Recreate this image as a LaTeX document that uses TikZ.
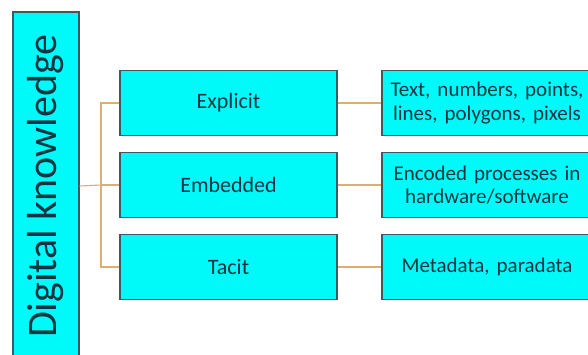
\documentclass[tikz,border=0pt]{standalone}
\usepackage{fontspec}
\setmainfont{Carlito}
\usepackage{tikz}
\usetikzlibrary{positioning,calc}

\definecolor{boxfill}{RGB}{0,250,250}
\definecolor{boxline}{RGB}{60,90,95}
\definecolor{boxtext}{RGB}{10,55,65}
\definecolor{linkline}{RGB}{220,175,110}

\newcommand\wordgap{\spaceskip=7pt\relax}

\tikzset{
    kbox/.style={draw=boxline, line width=1.3pt, fill=boxfill, text=boxtext,
        minimum width=217pt, minimum height=65pt, inner sep=0pt,
        font=\fontsize{22}{24}\selectfont, align=center},
    dbox/.style={kbox, minimum width=210pt,
        font=\fontsize{21}{23.5}\selectfont\wordgap},
    link/.style={draw=linkline, line width=1.1pt}
}

\begin{document}
\begin{tikzpicture}[x=1pt, y=-1pt]
    \clip (0,0) rectangle (588,354);
    \fill[white] (0,0) rectangle (588,354);

    % main box on the left
    \node[kbox, minimum width=66pt, minimum height=348pt, font=\fontsize{42}{46}\selectfont] (dk) at (46,186) {\rotatebox{90}{Digital knowledge}};

    % kinds of knowledge
    \node[kbox] (explicit) at (228.5,103) {Explicit};
    \node[kbox] (embedded) at (228.5,185) {Embedded};
    \node[kbox] (tacit) at (228.5,267) {Tacit};

    % what each kind holds
    \node[dbox] (explicitd) at (487,103) {Text, numbers, points,\\lines, polygons, pixels};
    \node[dbox] (embeddedd) at (487,185) {Encoded processes in\\hardware/software};
    \node[dbox] (tacitd) at (487,267) {Metadata, paradata};

    \coordinate (trunk) at (101,185);
    \draw[link] (dk.east) -- (trunk);
    \draw[link] (explicit.west) -| (trunk) |- (tacit.west);
    \draw[link] (trunk) -- (embedded.west);

    \draw[link] (explicit) -- (explicitd);
    \draw[link] (embedded) -- (embeddedd);
    \draw[link] (tacit) -- (tacitd);
\end{tikzpicture}
\end{document}
